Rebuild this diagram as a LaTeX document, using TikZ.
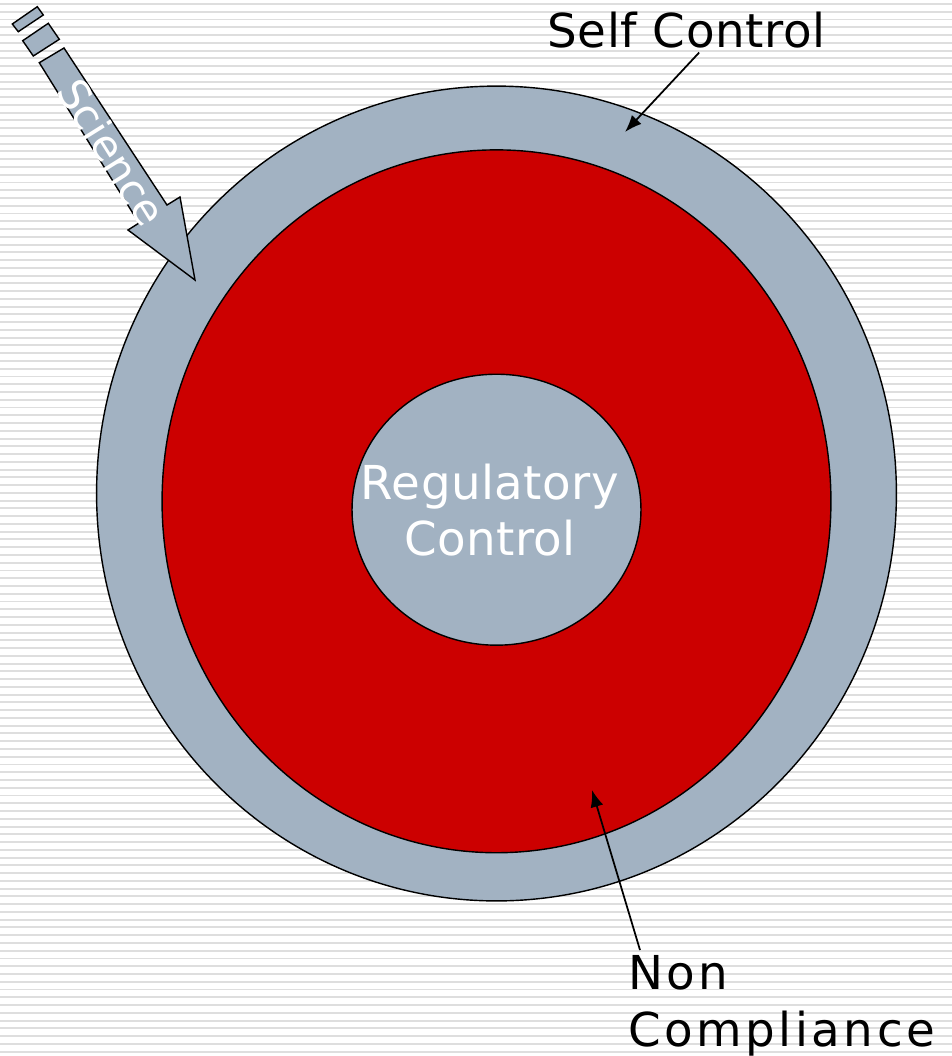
\documentclass[tikz,border=0pt]{standalone}
\usepackage{fontspec}
\setmainfont{DejaVu Sans}
\usetikzlibrary{shapes.geometric, arrows.meta}
\definecolor{slate}{RGB}{162,178,194}
\definecolor{alarm}{RGB}{204,0,0}
\definecolor{stripe}{RGB}{222,222,222}
\tikzstyle{ring}=[draw,ellipse,inner sep=0pt,line width=0.8pt]
\tikzstyle{band}=[draw,fill=slate,line width=0.8pt,line join=miter]
\tikzstyle{pointer}=[->,line width=1pt]
\tikzstyle{every node}=[font=\fontsize{26.6}{32.3}\selectfont]

\begin{document}
\begin{tikzpicture}[x=0.02cm, y=-0.02cm, >={Latex[length=3.4mm,width=2.6mm]}]
    \useasboundingbox (0,0) rectangle (952,1056);
    % striped background
    \foreach \k in {0,...,135}
        \draw[stripe, line width=1.1pt] (0,4+7.76*\k) -- (952,4+7.76*\k);

    \node[ring, fill=slate, minimum width=16cm, minimum height=16.3cm] (self) at (496.5,493.5) {};
    \node[ring, fill=alarm, minimum width=13.38cm, minimum height=14.06cm] (noncore) at (496.5,501.3) {};
    \node[ring, fill=slate, minimum width=5.78cm, minimum height=5.42cm] (reg) at (496.5,509.7) {};
    \node[white, align=center, inner sep=0pt] (regtxt) at (490,510) {\addfontfeatures{LetterSpace=1}Regulatory\\\addfontfeatures{LetterSpace=1}Control};

    % science arrow
    \draw[band] (12.3,24) -- (37.3,6.7) -- (43.3,15) -- (18.3,31.7) -- cycle;
    \draw[band] (22.7,40.7) -- (48.3,23.3) -- (59.3,39.3) -- (33.3,56) -- cycle;
    \draw[band] (39.3,62.7) -- (64,48) -- (167,205) -- (180,197) -- (195,280) -- (128,230) -- (139,223) -- cycle;
    \node[white, rotate=-58, inner sep=0pt, font=\fontsize{24}{28}\selectfont] (sci) at (112,152) {Science};

    % labels
    \node[anchor=base west, inner sep=0pt] (selfctl) at (547,47) {\addfontfeatures{LetterSpace=1.5}Self Control};
    \coordinate (selftip) at (625,132);
    \draw[pointer] ([xshift=0.25cm,yshift=-0.09cm]selfctl.south) -- (selftip);

    \node[anchor=north west, align=left, inner sep=0pt] (noncomp) at (628,955) {\addfontfeatures{LetterSpace=7.5}Non\\\addfontfeatures{LetterSpace=7.5}Compliance};
    \coordinate (noncomptip) at (592,790);
    \draw[pointer] ([xshift=0.24cm,yshift=0.1cm]noncomp.north west) -- (noncomptip);
\end{tikzpicture}
\end{document}
